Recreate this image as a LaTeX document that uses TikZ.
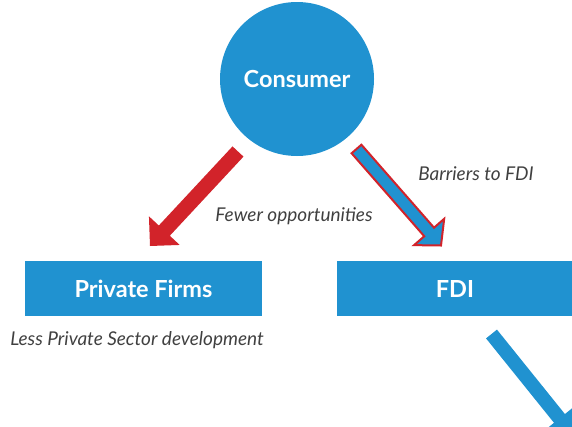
\documentclass[tikz,border=0pt]{standalone}
\usepackage{fontspec}
\setmainfont{Lato}
\usetikzlibrary{calc}
\definecolor{cblue}{HTML}{2092D0}
\definecolor{cred}{HTML}{D2232A}
\definecolor{cgray}{HTML}{404040}
% block arrow: options, tail, tip, shaft half-width, head half-width, head length
\newcommand\blockarrow[6]{%
  \coordinate (hb) at ($(#3)!#6!(#2)$);
  \path[#1] ($(#2)!#4!90:(#3)$) -- ($(hb)!#4!-90:(#2)$) -- ($(hb)!#5!-90:(#2)$)
    -- (#3) -- ($(hb)!#5!90:(#2)$) -- ($(hb)!#4!90:(#2)$) -- ($(#2)!#4!-90:(#3)$) -- cycle;}
\begin{document}
\begin{tikzpicture}[x=1pt,y=-1pt,
  box/.style={fill=cblue,text=white,font=\bfseries\fontsize{23.5}{26}\selectfont,
    minimum width=237pt,minimum height=55pt,inner sep=0pt},
  lbl/.style={text=cgray,font=\itshape\fontsize{19}{22}\selectfont,inner sep=0pt}]
\useasboundingbox (0,0) rectangle (572,426);
\clip (0,0) rectangle (572,426);
\node[circle,fill=cblue,minimum size=154pt,inner sep=0pt,text=white,
  font=\bfseries\fontsize{23.5}{26}\selectfont] (consumer) at (297,79) {Consumer};
\node[box] (firms) at (143.5,288.5) {Private Firms};
\node[box] (fdi) at (455,288.5) {FDI};
\node[lbl] (fewer) at (294,216) {Fewer opportunities};
\node[lbl] (barriers) at (476,174) {Barriers to FDI};
\node[lbl] (less) at (137,340) {Less Private Sector development};
% connectors
\coordinate (rt) at (238,151.5);
\coordinate (rh) at (150,246);
\blockarrow{fill=cred}{rt}{rh}{7.5pt}{21pt}{21pt}
\coordinate (bt) at (356.5,149);
\coordinate (bh) at (441,245.5);
\blockarrow{fill=cblue,draw=cred,line width=2pt,line join=miter}{bt}{bh}{6.5pt}{20pt}{18pt}
\coordinate (ot) at (491.5,334);
\coordinate (oh) at (572,434);
\blockarrow{fill=cblue}{ot}{oh}{7pt}{20pt}{20pt}
\end{tikzpicture}
\end{document}
